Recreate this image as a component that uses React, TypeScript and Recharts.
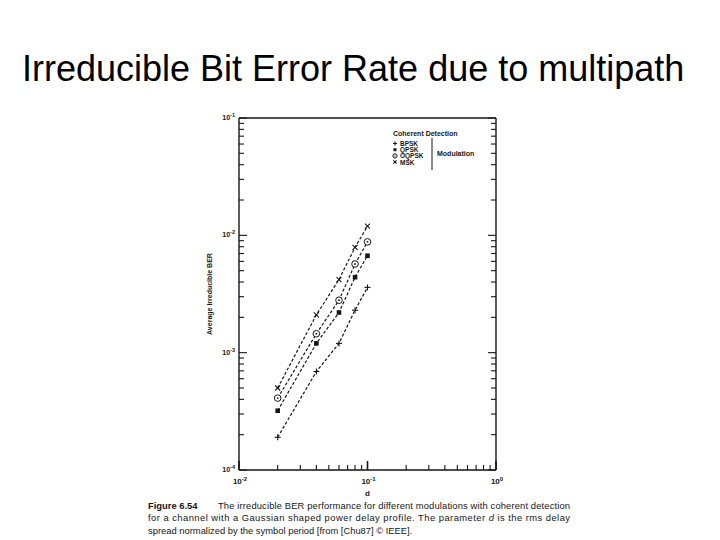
import React from "react";
import { LineChart, Line, XAxis, YAxis, Legend } from "recharts";

// normalized rms delay spread d
const dValues = [0.02, 0.04, 0.06, 0.08, 0.1];
// irreducible BER
const bpsk = [1.9e-4, 6.9e-4, 1.2e-3, 2.3e-3, 3.6e-3];
const qpsk = [3.2e-4, 1.2e-3, 2.2e-3, 4.4e-3, 6.7e-3];
const oqpsk = [4.1e-4, 1.45e-3, 2.8e-3, 5.7e-3, 8.8e-3];
const msk = [5.0e-4, 2.1e-3, 4.2e-3, 7.9e-3, 1.2e-2];

const xTicks = [
  0.01, 0.02, 0.03, 0.04, 0.05, 0.06, 0.07, 0.08, 0.09,
  0.1, 0.2, 0.3, 0.4, 0.5, 0.6, 0.7, 0.8, 0.9, 1,
];
const yTicks = [
  1e-4, 2e-4, 3e-4, 4e-4, 5e-4, 6e-4, 7e-4, 8e-4, 9e-4,
  1e-3, 2e-3, 3e-3, 4e-3, 5e-3, 6e-3, 7e-3, 8e-3, 9e-3,
  1e-2, 2e-2, 3e-2, 4e-2, 5e-2, 6e-2, 7e-2, 8e-2, 9e-2, 1e-1,
];
const xMajor = [0.01, 0.1, 1];
const xMajorLabels = ["-2", "-1", "0"];
const yMajor = [1e-4, 1e-3, 1e-2, 1e-1];
const yMajorLabels = ["-4", "-3", "-2", "-1"];

const series = [
  { key: "bpsk", name: "BPSK", marker: "plus" },
  { key: "qpsk", name: "QPSK", marker: "square" },
  { key: "oqpsk", name: "OQPSK", marker: "circle" },
  { key: "msk", name: "MSK", marker: "cross" },
];

const data = dValues.map((d, i) => ({
  d,
  bpsk: bpsk[i],
  qpsk: qpsk[i],
  oqpsk: oqpsk[i],
  msk: msk[i],
}));

const INK = "#161616";
const FONT = "'Liberation Sans', Arial, sans-serif";

function Marker({ kind, cx, cy, k = 1 }: { kind: string; cx: number; cy: number; k?: number }) {
  const s = 3 * k;
  if (kind === "plus")
    return (
      <g stroke={INK} strokeWidth={1.1}>
        <line x1={cx - s} x2={cx + s} y1={cy} y2={cy} />
        <line x1={cx} x2={cx} y1={cy - s} y2={cy + s} />
      </g>
    );
  if (kind === "square")
    return <rect x={cx - 2.3 * k} y={cy - 2.3 * k} width={4.6 * k} height={4.6 * k} fill={INK} />;
  if (kind === "circle")
    return (
      <g>
        <circle cx={cx} cy={cy} r={3.3 * k} fill="#fff" stroke={INK} strokeWidth={1} />
        <circle cx={cx} cy={cy} r={0.9 * k} fill={INK} />
      </g>
    );
  const c = 2.5 * k;
  return (
    <g stroke={INK} strokeWidth={1.1}>
      <line x1={cx - c} x2={cx + c} y1={cy - c} y2={cy + c} />
      <line x1={cx - c} x2={cx + c} y1={cy + c} y2={cy - c} />
    </g>
  );
}

const makeDot = (kind: string) => (props: any) => {
  const { cx, cy, index } = props;
  if (cx == null || cy == null) return <g key={index} />;
  return <Marker key={index} kind={kind} cx={cx} cy={cy} />;
};

const near = (a: number, b: number) => Math.abs(a - b) / b < 1e-6;

const BottomTick = (props: any) => {
  const { x, y, payload } = props;
  const idx = xMajor.findIndex((m) => near(payload.value, m));
  const major = idx >= 0;
  return (
    <g>
      <line x1={x} x2={x} y1={y} y2={y - (major ? 9 : 5)} stroke={INK} strokeWidth={major ? 1.6 : 1.1} />
      {major && (
        <text x={x + 1} y={y + 14} textAnchor="middle" fontFamily={FONT} fontSize={8} fontWeight="bold" fill={INK}>
          10<tspan dy={-3} fontSize={6}>{xMajorLabels[idx]}</tspan>
        </text>
      )}
    </g>
  );
};

const TopTick = (props: any) => {
  const { x, y, payload } = props;
  const major = xMajor.some((m) => near(payload.value, m));
  return <line x1={x} x2={x} y1={y} y2={y + (major ? 9 : 5)} stroke={INK} strokeWidth={major ? 1.6 : 1.1} />;
};

const LeftTick = (props: any) => {
  const { x, y, payload } = props;
  const idx = yMajor.findIndex((m) => near(payload.value, m));
  const major = idx >= 0;
  return (
    <g>
      <line x1={x} x2={x + (major ? 8 : 5)} y1={y} y2={y} stroke={INK} strokeWidth={1.1} />
      {major && (
        <text x={x - 4} y={y + 2} textAnchor="end" fontFamily={FONT} fontSize={7} fontWeight="bold" fill={INK}>
          10<tspan dy={-3} fontSize={5.5}>{yMajorLabels[idx]}</tspan>
        </text>
      )}
    </g>
  );
};

const RightTick = (props: any) => {
  const { x, y, payload } = props;
  const major = yMajor.some((m) => near(payload.value, m));
  return <line x1={x} x2={x - (major ? 8 : 5)} y1={y} y2={y} stroke={INK} strokeWidth={1.1} />;
};

const LegendBox = () => (
  <svg width={110} height={48} style={{ display: "block", overflow: "visible" }}>
    <text x={5} y={9} fontFamily={FONT} fontSize={7} fontWeight="bold" fill={INK}>
      Coherent Detection
    </text>
    {series.map((s, i) => (
      <g key={s.key}>
        <Marker kind={s.marker} cx={7} cy={16.5 + i * 6.2} k={0.65} />
        <text x={12} y={19 + i * 6.2} fontFamily={FONT} fontSize={6.5} fontWeight="bold" fill={INK}>
          {s.name}
        </text>
      </g>
    ))}
    <line x1={44} x2={44} y1={11} y2={43} stroke={INK} strokeWidth={1} />
    <text x={49} y={29} fontFamily={FONT} fontSize={7} fontWeight="bold" fill={INK}>
      Modulation
    </text>
  </svg>
);

export default function App() {
  return (
    <div
      style={{
        position: "absolute",
        left: 0,
        top: 0,
        width: 720,
        height: 540,
        background: "#fff",
        overflow: "hidden",
      }}
    >
      <svg width={720} height={540} style={{ position: "absolute", left: 0, top: 0 }}>
        <text x={22} y={81} fontFamily={FONT} fontSize={36} fill="#000">
          Irreducible Bit Error Rate due to multipath
        </text>
        <g fontFamily={FONT} fontSize={9.4} fill={INK}>
          <text x={148} y={508.5}>
            <tspan fontWeight="bold">Figure 6.54</tspan>
          </text>
          <text x={218} y={508.5} textLength={352} lengthAdjust="spacing">
            The irreducible BER performance for different modulations with coherent detection
          </text>
          <text x={148} y={521} textLength={422} lengthAdjust="spacing">
            for a channel with a Gaussian shaped power delay profile. The parameter{" "}
            <tspan fontStyle="italic">d</tspan> is the rms delay
          </text>
          <text x={148} y={533.5}>
            spread normalized by the symbol period [from [Chu87] © IEEE].
          </text>
        </g>
      </svg>
      <div style={{ position: "absolute", left: 0, top: 0 }}>
        <LineChart
          width={720}
          height={540}
          data={data}
          margin={{ top: 117, right: 223, bottom: 40, left: 209 }}
        >
          <XAxis
            dataKey="d"
            type="number"
            scale="log"
            domain={[0.01, 1]}
            allowDataOverflow
            ticks={xTicks}
            interval={0}
            tick={<BottomTick />}
            tickSize={0}
            tickMargin={0}
            tickLine={false}
            height={30}
            axisLine={{ stroke: INK, strokeWidth: 1.4 }}
            label={(p: any) => {
              const vb = p.viewBox || {};
              return (
                <text
                  x={(vb.x ?? 239) + (vb.width ?? 257) / 2}
                  y={(vb.y ?? 470) + 26}
                  textAnchor="middle"
                  fontFamily={FONT}
                  fontSize={8}
                  fontWeight="bold"
                  fill={INK}
                >
                  d
                </text>
              );
            }}
          />
          <XAxis
            xAxisId="top"
            orientation="top"
            type="number"
            scale="log"
            domain={[0.01, 1]}
            allowDataOverflow
            ticks={xTicks}
            interval={0}
            tick={<TopTick />}
            tickSize={0}
            tickMargin={0}
            tickLine={false}
            height={1}
            axisLine={{ stroke: INK, strokeWidth: 1.4 }}
          />
          <YAxis
            type="number"
            scale="log"
            domain={[1e-4, 1e-1]}
            allowDataOverflow
            ticks={yTicks}
            interval={0}
            tick={<LeftTick />}
            tickSize={0}
            tickMargin={0}
            tickLine={false}
            width={30}
            axisLine={{ stroke: INK, strokeWidth: 1.4 }}
            label={(p: any) => {
              const vb = p.viewBox || {};
              const x = (vb.x ?? 209) + (vb.width ?? 30) - 27;
              const y = (vb.y ?? 118) + (vb.height ?? 352) / 2;
              return (
                <text
                  x={x}
                  y={y}
                  transform={`rotate(-90 ${x} ${y})`}
                  textAnchor="middle"
                  fontFamily={FONT}
                  fontSize={7}
                  fontWeight="bold"
                  fill={INK}
                >
                  Average Irreducible BER
                </text>
              );
            }}
          />
          <YAxis
            yAxisId="right"
            orientation="right"
            type="number"
            scale="log"
            domain={[1e-4, 1e-1]}
            allowDataOverflow
            ticks={yTicks}
            interval={0}
            tick={<RightTick />}
            tickSize={0}
            tickMargin={0}
            tickLine={false}
            width={1}
            axisLine={{ stroke: INK, strokeWidth: 1.4 }}
          />
          <Legend
            layout="vertical"
            align="center"
            verticalAlign="middle"
            wrapperStyle={{ left: 388, top: 127, width: 110, height: 48 }}
            content={() => <LegendBox />}
          />
          {series.map((s) => (
            <Line
              key={s.key}
              dataKey={s.key}
              name={s.name}
              stroke={INK}
              strokeWidth={1.2}
              strokeDasharray="3 2"
              dot={makeDot(s.marker)}
              activeDot={false}
              isAnimationActive={false}
            />
          ))}
        </LineChart>
      </div>
    </div>
  );
}
